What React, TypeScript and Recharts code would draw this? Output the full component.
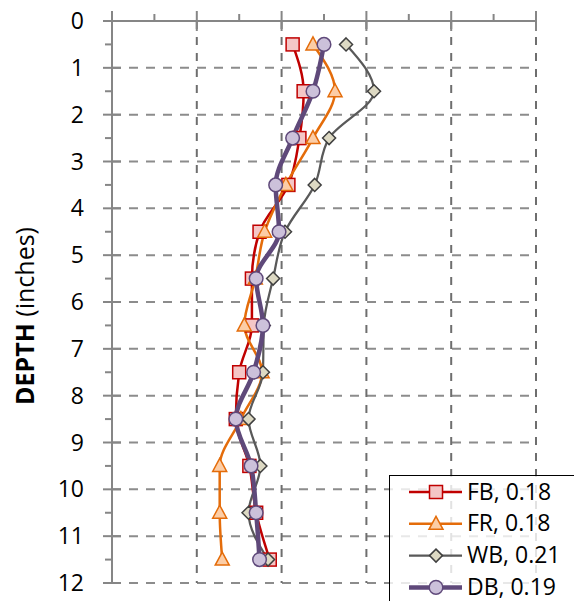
import { LineChart, Line, XAxis, YAxis, CartesianGrid, Legend } from "recharts";

const depths = [0.5, 1.5, 2.5, 3.5, 4.5, 5.5, 6.5, 7.5, 8.5, 9.5, 10.5, 11.5];
const fb = [0.213, 0.226, 0.221, 0.208, 0.174, 0.165, 0.165, 0.15, 0.146, 0.162, 0.17, 0.186];
const fr = [0.237, 0.263, 0.237, 0.205, 0.18, 0.169, 0.156, 0.177, 0.152, 0.127, 0.127, 0.13];
const wb = [0.276, 0.309, 0.256, 0.239, 0.204, 0.19, 0.179, 0.178, 0.161, 0.175, 0.161, 0.184];
const db = [0.25, 0.237, 0.213, 0.193, 0.197, 0.17, 0.178, 0.167, 0.146, 0.164, 0.17, 0.174];

const seriesKeys = ["fb", "fr", "wb", "db"];
const seriesNames = ["FB, 0.18", "FR, 0.18", "WB, 0.21", "DB, 0.19"];

const depthTicks = [0, 0.5, 1, 1.5, 2, 2.5, 3, 3.5, 4, 4.5, 5, 5.5, 6, 6.5, 7, 7.5, 8, 8.5, 9, 9.5, 10, 10.5, 11, 11.5, 12];
const depthGrid = [1, 2, 3, 4, 5, 6, 7, 8, 9, 10, 11, 12];
const xTicks = [0, 0.05, 0.1, 0.15, 0.2, 0.25, 0.3, 0.35, 0.4, 0.45, 0.5];
const xGrid = [0.1, 0.2, 0.3, 0.4, 0.5];

const data = depths.map((depth, i) => ({ depth, fb: fb[i], fr: fr[i], wb: wb[i], db: db[i] }));

const FONT = '"Open Sans", "Noto Sans", sans-serif';
const AXIS = "#868686";

const styles: Record<string, { line: string; fill: string; edge: string; width: number }> = {
  fb: { line: "#C00000", fill: "#F4C6C6", edge: "#C00000", width: 2.5 },
  fr: { line: "#E46C0A", fill: "#FCCDA6", edge: "#E46C0A", width: 2.5 },
  wb: { line: "#595959", fill: "#DDD9C3", edge: "#3F3F3F", width: 2.25 },
  db: { line: "#5F497A", fill: "#CCC1DA", edge: "#5F497A", width: 4.5 },
};

const Marker = ({ k, cx, cy }: { k: string; cx: number; cy: number }) => {
  const s = styles[k];
  if (k === "fb")
    return <rect x={cx - 6.5} y={cy - 6.5} width={13} height={13} fill={s.fill} stroke={s.edge} strokeWidth={1.5} />;
  if (k === "fr")
    return (
      <polygon
        points={`${cx},${cy - 7.5} ${cx + 7},${cy + 5.5} ${cx - 7},${cy + 5.5}`}
        fill={s.fill}
        stroke={s.edge}
        strokeWidth={1.5}
      />
    );
  if (k === "wb")
    return (
      <polygon
        points={`${cx},${cy - 6.5} ${cx + 6.5},${cy} ${cx},${cy + 6.5} ${cx - 6.5},${cy}`}
        fill={s.fill}
        stroke={s.edge}
        strokeWidth={1.5}
      />
    );
  return <circle cx={cx} cy={cy} r={6.8} fill={s.fill} stroke={s.edge} strokeWidth={1.5} />;
};

const dotFor = (k: string) => (p: any) => <Marker key={`${k}-${p.index}`} k={k} cx={p.cx} cy={p.cy} />;

const DepthTick = ({ x, y, payload }: any) => {
  const v = payload.value;
  const major = Number.isInteger(v);
  return (
    <g>
      <line x1={major ? x - 9 : x - 7} x2={major ? x + 9 : x} y1={y} y2={y} stroke={AXIS} strokeWidth={2} />
      {major && (
        <text x={x - 28} y={y} dy={8} textAnchor="end" fontSize={23} fontFamily={FONT} fill="#000">
          {v}
        </text>
      )}
    </g>
  );
};

const TopTick = ({ x, y, payload }: any) => {
  const major = Math.round(payload.value * 100) % 10 === 0;
  return <line x1={x} x2={x} y1={major ? y - 10 : y - 7} y2={major ? y + 10 : y} stroke={AXIS} strokeWidth={2} />;
};

// legend rows follow the series order, not recharts' sorted payload
const LegendBox = () => (
  <div
    style={{
      width: 220,
      height: 150,
      border: "1px solid #000",
      background: "rgba(255,255,255,0.8)",
      boxSizing: "border-box",
    }}
  >
    <svg width={218} height={148}>
      {seriesKeys.map((k, i) => {
        const cy = 16 + i * 31.8;
        return (
          <g key={k}>
            <line x1={19} x2={72} y1={cy} y2={cy} stroke={styles[k].line} strokeWidth={styles[k].width} />
            <Marker k={k} cx={46} cy={cy} />
            <text x={77} y={cy} dy={7.5} fontSize={23} fontFamily={FONT} fill="#000">
              {seriesNames[i]}
            </text>
          </g>
        );
      })}
    </svg>
  </div>
);

const DepthTitle = () => (
  <text transform="translate(34,316) rotate(-90)" textAnchor="middle" fontSize={25} fontFamily={FONT} fill="#000">
    <tspan fontWeight="bold">DEPTH</tspan>
    <tspan> (inches)</tspan>
  </text>
);

export default function App() {
  return (
    <div style={{ position: "absolute", left: 0, top: 0, width: 574, height: 601, overflow: "hidden", background: "#fff" }}>
      <LineChart
        layout="vertical"
        width={574}
        height={601}
        data={data}
        margin={{ top: 20, right: 38, bottom: 18, left: 111 }}
      >
        <CartesianGrid vertical={false} horizontalValues={depthGrid} stroke="#8c8c8c" strokeWidth={2} strokeDasharray="9 8" />
        <CartesianGrid horizontal={false} verticalValues={xGrid} stroke="#6e6e6e" strokeWidth={2} strokeDasharray="8 8" />
        <XAxis
          type="number"
          orientation="top"
          domain={[0, 0.5]}
          ticks={xTicks}
          interval={0}
          height={1}
          tickSize={0}
          tickMargin={0}
          tickLine={false}
          tick={<TopTick />}
          axisLine={{ stroke: AXIS, strokeWidth: 2 }}
          allowDataOverflow
        />
        <YAxis
          type="number"
          dataKey="depth"
          domain={[0, 12]}
          ticks={depthTicks}
          interval={0}
          width={1}
          tickSize={0}
          tickMargin={0}
          tickLine={false}
          tick={<DepthTick />}
          axisLine={{ stroke: AXIS, strokeWidth: 2 }}
          label={{ content: () => <DepthTitle /> }}
        />
        {seriesKeys.map((k, i) => (
          <Line
            key={k}
            dataKey={k}
            name={seriesNames[i]}
            type="monotone"
            stroke={styles[k].line}
            strokeWidth={styles[k].width}
            dot={dotFor(k)}
            activeDot={false}
            isAnimationActive={false}
          />
        ))}
        <Legend
          layout="horizontal"
          verticalAlign="middle"
          align="center"
          wrapperStyle={{ left: 389, top: 475, width: 220, height: 150 }}
          content={<LegendBox />}
        />
      </LineChart>
    </div>
  );
}
